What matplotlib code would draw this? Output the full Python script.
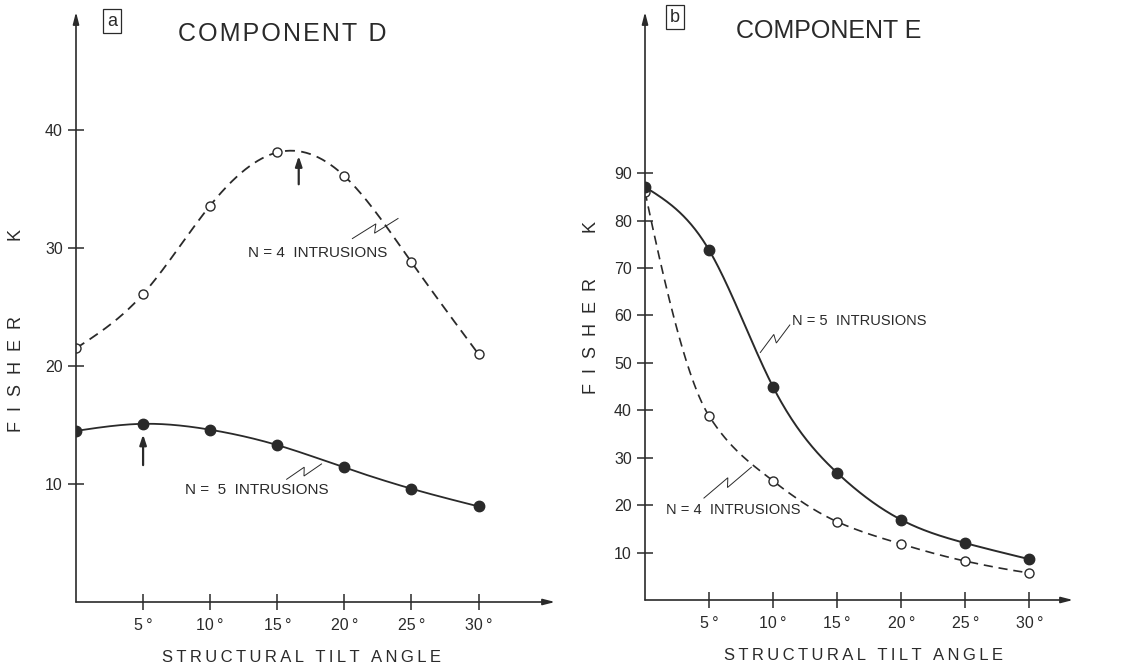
import numpy as np
import matplotlib
matplotlib.use("Agg")
from matplotlib import pyplot as plt

plt.rcParams['font.family'] = ['Liberation Sans', 'DejaVu Sans']

INK = '#2a2a2a'

# tilt angles (degrees) at which Fisher k was computed
tilt = [0, 5, 10, 15, 20, 25, 30]

# component D
d_n4 = [21.5, 26.1, 33.6, 38.1, 36.1, 28.8, 21.0]
d_n5 = [14.5, 15.1, 14.6, 13.3, 11.4, 9.6, 8.1]
d_peak_n4 = 16.6
d_peak_n5 = 5

# component E
e_n5 = [87.1, 73.8, 44.9, 26.8, 16.9, 12.0, 8.6]
e_n4 = [86.1, 38.8, 25.1, 16.5, 11.8, 8.2, 5.7]

d_yticks = [10, 20, 30, 40]
e_yticks = [10, 20, 30, 40, 50, 60, 70, 80, 90]
xticks = [5, 10, 15, 20, 25, 30]


def natural_spline(x, y, xs):
    x = np.asarray(x, float); y = np.asarray(y, float)
    n = len(x); h = np.diff(x)
    A = np.zeros((n, n)); r = np.zeros(n)
    A[0, 0] = A[-1, -1] = 1
    for i in range(1, n - 1):
        A[i, i - 1] = h[i - 1]
        A[i, i] = 2 * (h[i - 1] + h[i])
        A[i, i + 1] = h[i]
        r[i] = 3 * ((y[i + 1] - y[i]) / h[i] - (y[i] - y[i - 1]) / h[i - 1])
    c = np.linalg.solve(A, r)
    b = np.diff(y) / h - h * (2 * c[:-1] + c[1:]) / 3
    d = np.diff(c) / (3 * h)
    k = np.clip(np.searchsorted(x, xs) - 1, 0, n - 2)
    t = xs - x[k]
    return y[k] + b[k] * t + c[k] * t ** 2 + d[k] * t ** 3


def pchip(x, y, xs):
    x = np.asarray(x, float); y = np.asarray(y, float)
    n = len(x); h = np.diff(x); delta = np.diff(y) / h
    m = np.zeros(n)
    for k in range(1, n - 1):
        if delta[k - 1] * delta[k] > 0:
            w1 = 2 * h[k] + h[k - 1]; w2 = h[k] + 2 * h[k - 1]
            m[k] = (w1 + w2) / (w1 / delta[k - 1] + w2 / delta[k])
    m[0] = ((2 * h[0] + h[1]) * delta[0] - h[0] * delta[1]) / (h[0] + h[1])
    if np.sign(m[0]) != np.sign(delta[0]):
        m[0] = 0
    m[-1] = ((2 * h[-1] + h[-2]) * delta[-1] - h[-1] * delta[-2]) / (h[-1] + h[-2])
    if np.sign(m[-1]) != np.sign(delta[-1]):
        m[-1] = 0
    k = np.clip(np.searchsorted(x, xs) - 1, 0, n - 2)
    t = (xs - x[k]) / h[k]
    h00 = 2 * t ** 3 - 3 * t ** 2 + 1; h10 = t ** 3 - 2 * t ** 2 + t
    h01 = -2 * t ** 3 + 3 * t ** 2; h11 = t ** 3 - t ** 2
    return h00 * y[k] + h10 * h[k] * m[k] + h01 * y[k + 1] + h11 * h[k] * m[k + 1]


def spaced(s, gap=' '):
    return gap.join(s)


def zigzag(ax, start, end):
    '''little lightning-bolt leader from a label to its curve'''
    p0 = ax.transData.transform(start)
    p1 = ax.transData.transform(end)
    u = p1 - p0
    v = np.array([-u[1], u[0]]) / np.hypot(*u)
    pts = np.array([p0, p0 + 0.55 * u + 4 * v, p0 + 0.45 * u - 4 * v, p1])
    pts = ax.transData.inverted().transform(pts)
    ax.plot(pts[:, 0], pts[:, 1], color=INK, lw=0.7, solid_joinstyle='miter')


def setup_axes(ax, xmax, ymax, yticks):
    ax.set_xlim(0, xmax)
    ax.set_ylim(0, ymax)
    for s in ax.spines.values():
        s.set_visible(False)
    ax.annotate('', xy=(1, 0), xytext=(0, 0), xycoords='axes fraction',
                arrowprops=dict(arrowstyle='-|>,head_length=0.7,head_width=0.18',
                                color=INK, lw=1.2, shrinkA=0, shrinkB=0))
    ax.annotate('', xy=(0, 1), xytext=(0, 0), xycoords='axes fraction',
                arrowprops=dict(arrowstyle='-|>,head_length=0.7,head_width=0.18',
                                color=INK, lw=1.2, shrinkA=0, shrinkB=0))
    ax.set_xticks(xticks)
    ax.set_xticklabels([f'{t}\u2009\u00b0' for t in xticks])
    ax.set_yticks(yticks)
    ax.tick_params(direction='inout', length=11, width=1.1, color=INK,
                   labelcolor=INK, labelsize=11.5, pad=4)
    ax.tick_params(axis='x', pad=6)
    ax.set_facecolor('none')


fig = plt.figure(figsize=(11.48, 6.69), dpi=100)
W, H = 1148, 669

# ---- component D ----
axa = fig.add_axes([76 / W, (H - 602) / H, 479 / W, 590 / H])
setup_axes(axa, 35.7, 50, d_yticks)
xs = np.linspace(0, 30, 300)
axa.plot(xs, natural_spline(tilt, d_n4, xs), color=INK, lw=1.3, ls=(0, (5.5, 3.5)))
axa.plot(tilt, d_n4, 'o', ms=6.5, mfc='white', mec=INK, mew=1.0)
axa.plot(xs, natural_spline(tilt, d_n5, xs), color=INK, lw=1.3)
axa.plot(tilt, d_n5, 'o', ms=7.5, color=INK)

axa.annotate('', xy=(d_peak_n4, 37.8), xytext=(d_peak_n4, 35.4),
             arrowprops=dict(arrowstyle='-|>,head_length=0.6,head_width=0.2',
                             color=INK, lw=1.6, shrinkA=0, shrinkB=0))
axa.annotate('', xy=(d_peak_n5, 14.2), xytext=(d_peak_n5, 11.6),
             arrowprops=dict(arrowstyle='-|>,head_length=0.6,head_width=0.2',
                             color=INK, lw=1.6, shrinkA=0, shrinkB=0))

axa.text(18.0, 29.6, 'N = 4  INTRUSIONS', fontsize=11, color=INK,
         ha='center', va='center')
zigzag(axa, (20.6, 30.8), (24.0, 32.5))
axa.text(8.1, 9.5, 'N =  5  INTRUSIONS', fontsize=11, color=INK,
         ha='left', va='center')
zigzag(axa, (15.7, 10.4), (18.3, 11.7))

fig.text(17 / W, 1 - 331 / H, 'F  I  S  H  E  R' + ' ' * 15 + 'K', rotation=90,
         fontsize=13, color=INK, ha='center', va='center')
fig.text(301 / W, 1 - 657 / H, spaced('STRUCTURAL TILT ANGLE', '\u2009'), fontsize=12,
         color=INK, ha='center', va='center')
fig.text(282 / W, 1 - 34 / H, spaced('COMPONENT D', '\u200a'), fontsize=18,
         color=INK, ha='center', va='center')
fig.text(112 / W, 1 - 21 / H, 'a', fontsize=13, color=INK, ha='center', va='center',
         bbox=dict(boxstyle='square,pad=0.2', fc='white', ec=INK, lw=0.9))

# ---- component E ----
axb = fig.add_axes([645 / W, (H - 600) / H, 428 / W, 588 / H])
setup_axes(axb, 33.4, 124, e_yticks)
axb.plot(xs, pchip(tilt, e_n4, xs), color=INK, lw=1.2, ls=(0, (5.5, 3.5)))
axb.plot(tilt, e_n4, 'o', ms=6.5, mfc='white', mec=INK, mew=1.0)
axb.plot(xs, natural_spline(tilt, e_n5, xs), color=INK, lw=1.4)
axb.plot(tilt, e_n5, 'o', ms=7.5, color=INK)

axb.text(11.5, 58.8, 'N = 5  INTRUSIONS', fontsize=10.5, color=INK,
         ha='left', va='center')
zigzag(axb, (11.3, 58.0), (9.0, 52.2))
axb.text(1.6, 19.0, 'N = 4  INTRUSIONS', fontsize=10.5, color=INK,
         ha='left', va='center')
zigzag(axb, (4.6, 21.5), (8.3, 28.0))

fig.text(592 / W, 1 - 308 / H, 'F  I  S  H  E  R' + ' ' * 9 + 'K', rotation=90,
         fontsize=13, color=INK, ha='center', va='center')
fig.text(864 / W, 1 - 655 / H, spaced('STRUCTURAL TILT ANGLE', '\u2009'), fontsize=12,
         color=INK, ha='center', va='center')
fig.text(829 / W, 1 - 31 / H, 'COMPONENT E', fontsize=18,
         color=INK, ha='center', va='center')
fig.text(675 / W, 1 - 17 / H, 'b', fontsize=13, color=INK, ha='center', va='center',
         bbox=dict(boxstyle='square,pad=0.2', fc='white', ec=INK, lw=0.9))

fig.savefig('out.png', dpi=100, facecolor='white')
